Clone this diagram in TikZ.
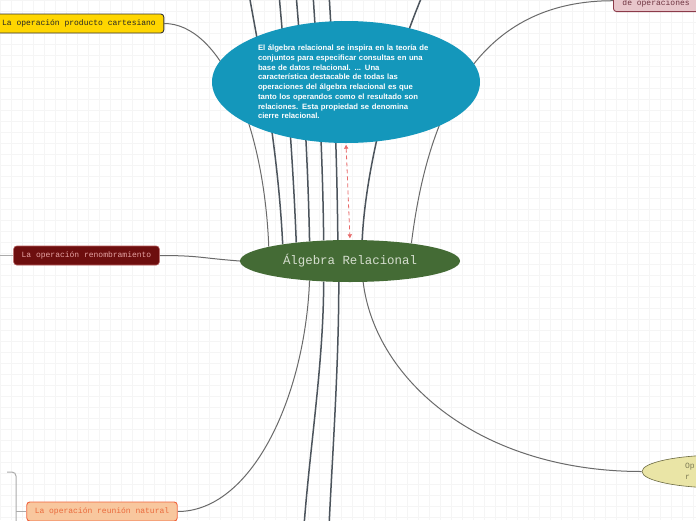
\documentclass[tikz,border=0pt]{standalone}
\usepackage{fontspec}
\setmainfont{Liberation Sans}
\newfontfamily\mapmono{Liberation Mono}
\usetikzlibrary{arrows.meta, shapes.geometric, calc}
\pgfdeclarelayer{grid}
\pgfdeclarelayer{links}
\pgfsetlayers{grid,links,main}
\definecolor{infoblue}{HTML}{1497BB}
\definecolor{rootgreen}{HTML}{446B35}
\definecolor{roottext}{HTML}{D6DECF}
\definecolor{branchgray}{HTML}{4C545C}
\definecolor{thingray}{HTML}{6A6A6A}
\definecolor{stubgray}{HTML}{ABABAB}
\definecolor{prodfill}{HTML}{FFD600}
\definecolor{renfill}{HTML}{6D0E0E}
\definecolor{rentext}{HTML}{E6A3A3}
\definecolor{renborder}{HTML}{B45A5A}
\definecolor{reunfill}{HTML}{F8C79E}
\definecolor{reunborder}{HTML}{F0623A}
\definecolor{reuntext}{HTML}{EA6A3C}
\definecolor{opsfill}{HTML}{E8C6CB}
\definecolor{opsborder}{HTML}{8C3B4A}
\definecolor{opstext}{HTML}{6E3340}
\definecolor{oprfill}{HTML}{EAE5A6}
\definecolor{oprborder}{HTML}{6B6A42}
\definecolor{oprtext}{HTML}{7E7C55}
\definecolor{linkred}{HTML}{E86A6A}
\definecolor{gridgray}{HTML}{F5F5F5}

\begin{document}
\begin{tikzpicture}[
    x=1pt, y=-1pt,
    topic/.style={draw, rounded corners=3pt, minimum height=19pt,
        inner xsep=8pt, inner ysep=0pt, font=\mapmono\fontsize{8}{11}\selectfont},
    branch/.style={draw=branchgray, line width=1.5pt},
    twig/.style={draw=thingray, line width=1pt},
    stub/.style={draw=stubgray, line width=1pt},
    relink/.style={draw=linkred, line width=0.8pt, dash pattern=on 4pt off 3pt,
        {Triangle[length=4pt,width=4pt]}-{Triangle[length=4pt,width=4pt]},
        shorten <=1.5pt, shorten >=1.5pt},
]
\useasboundingbox (0,0) rectangle (696,520);
\clip (0,0) rectangle (696,520);

% faint grid of the canvas
\begin{pgfonlayer}{grid}
\fill[white] (0,0) rectangle (696,520);
\draw[gridgray, line width=0.4pt, xstep=11pt, ystep=11pt] (0,0) grid (696,520);
\end{pgfonlayer}

% central topic and the note above it
\node[ellipse, fill=rootgreen, text=roottext, minimum width=220pt, minimum height=42pt,
    inner sep=0pt, font=\mapmono\fontsize{12.4}{14}\selectfont] (alg) at (350,261)
    {Álgebra Relacional};
\node[ellipse, fill=infoblue, text=white, minimum width=268pt, minimum height=122pt,
    inner sep=0pt, text width=176pt, align=left,
    font=\bfseries\fontsize{7.7}{9.7}\selectfont] (info) at (346,82)
    {El álgebra relacional se inspira en la teoría de\\
     conjuntos para especificar consultas en una\\
     base de datos relacional. ... Una\\
     característica destacable de todas las\\
     operaciones del álgebra relacional es que\\
     tanto los operandos como el resultado son\\
     relaciones. Esta propiedad se denomina\\
     cierre relacional.};

% subtopics
\node[topic, fill=prodfill, draw=black!80, text=black!85, line width=0.9pt,
    minimum width=163pt] (prod) at (79,23.5) {La operación producto cartesiano};
\node[topic, fill=renfill, draw=renborder, text=rentext, line width=0.6pt,
    minimum width=145pt] (ren) at (86.5,255.5) {La operación renombramiento};
\node[topic, fill=reunfill, draw=reunborder, text=reuntext, line width=0.9pt,
    minimum width=150pt] (reun) at (102,511.5) {La operación reunión natural};
\node[topic, fill=opsfill, draw=opsborder, text=opstext, line width=0.9pt,
    inner xsep=9pt, inner ysep=4.5pt, align=left, anchor=south west] (ops) at (613,12)
    {\mbox{}\\de operaciones};
\node[ellipse, fill=oprfill, draw=oprborder, text=oprtext, line width=0.6pt,
    minimum width=160pt, minimum height=33pt, inner sep=0pt, text width=74pt,
    align=left, font=\mapmono\fontsize{8}{11}\selectfont] (opr) at (722,471.5)
    {Op\\r};

% free ends of branches leaving the canvas
\coordinate (up1) at (249,-6);
\coordinate (up2) at (279,-6);
\coordinate (up3) at (296,-6);
\coordinate (up4) at (313,-6);
\coordinate (up5) at (329,-6);
\coordinate (up6) at (423,-6);
\coordinate (down1) at (304,526);
\coordinate (down2) at (329,526);
\coordinate (renkid) at (-5,255.5);
\coordinate (reunkid) at (7,472);
\coordinate (reunfoot) at (16,530);

\begin{pgfonlayer}{links}
% branches hidden behind the note
\draw[branch] (alg.166) .. controls +(-5,-104) and +(8,46) .. (up1);
\draw[branch] (alg.161) .. controls +(-4,-103) and +(4,46) .. (up2);
\draw[branch] (alg.154) .. controls +(-2,-101) and +(4,46) .. (up3);
\draw[branch] (alg.142) .. controls +(-1,-100) and +(3,46) .. (up4);
\draw[branch] (alg.120) .. controls +(-1,-100) and +(3,46) .. (up5);
\draw[branch] (alg.60) .. controls +(4,-80) and +(-28,66) .. (up6);

% branches going down
\draw[branch] (alg.218) .. controls +(0,80) and +(6,-80) .. (down1);
\draw[branch] (alg.242) .. controls +(0,80) and +(4,-80) .. (down2);

% branches to the subtopics
\draw[twig] (alg.170) .. controls +(-5,-125) and +(55,0) .. (prod.east);
\draw[twig] (alg.16) .. controls +(19,-153) and +(-123,0) .. (ops.west);
\draw[twig] (alg.west) .. controls +(-40,-3) and +(40,0) .. (ren.east);
\draw[twig] (alg.206) .. controls +(-5,119) and +(73,0) .. (reun.east);
\draw[twig] (alg.302) .. controls +(12,98) and +(-162,0) .. (opr.west);

% stubs of the subtopics' own children
\draw[stub] (ren.west) -- (renkid);
\draw[stub, rounded corners=4pt] (reunkid) -| (reunfoot);
\draw[stub] (reun.west) -- (reun.west -| reunfoot);
\end{pgfonlayer}

% link between note and central topic
\draw[relink] (info.south) -- (alg.north);

\end{tikzpicture}
\end{document}
